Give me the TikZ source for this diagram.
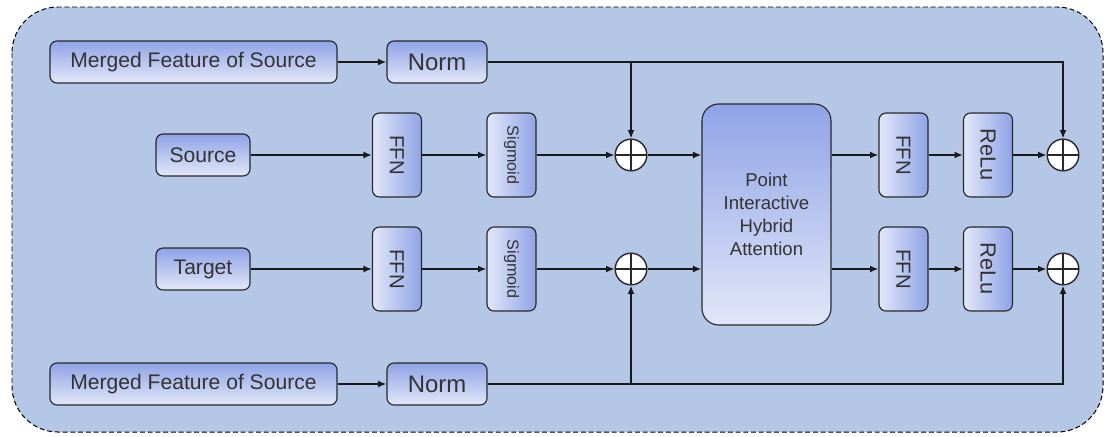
\documentclass[tikz,border=0pt]{standalone}
\usepackage{graphicx}
\usepackage{fontspec}
\setmainfont{Liberation Sans}
\usetikzlibrary{arrows.meta,calc}

\definecolor{bgblue}{RGB}{180,199,231}
\definecolor{boxdark}{RGB}{143,163,230}
\definecolor{boxlight}{RGB}{226,231,248}
\definecolor{edgegray}{RGB}{40,40,40}
\tikzset{
  hbox/.style={draw=edgegray, line width=0.8pt, rounded corners=5pt,
    top color=boxdark, bottom color=boxlight, text=black!80, inner sep=0pt,
    minimum height=1.05cm, font=\fontsize{15}{18}\selectfont},
  vbox/.style={draw=edgegray, line width=0.8pt, rounded corners=5pt,
    left color=boxlight, right color=boxdark, text=black!80, inner sep=0pt,
    minimum width=1.225cm, minimum height=2.1cm},
  addop/.style={circle, draw=edgegray, fill=white, line width=1pt,
    minimum size=0.79cm, inner sep=0pt,
    path picture={\draw[line width=1pt]
      (path picture bounding box.north) -- (path picture bounding box.south)
      (path picture bounding box.west) -- (path picture bounding box.east);}},
  conn/.style={line width=1.2pt, draw=black!90, -{Latex[length=6pt,width=5pt]}},
}

\begin{document}
\begin{tikzpicture}[x=0.025cm,y=-0.025cm]
  \useasboundingbox (0,0) rectangle (1111,436);
  \draw[dash pattern=on 3.5pt off 2pt, line width=0.7pt, fill=bgblue,
    rounded corners=1.15cm] (12,7) rectangle (1103,432);

  % inputs
  \node[hbox, minimum width=7.175cm] (mergedA) at (193.5,62) {Merged Feature of Source};
  \node[hbox, minimum width=2.5cm, font=\fontsize{17}{20}\selectfont] (normA) at (437,62) {Norm};
  \node[hbox, minimum width=2.35cm] (src) at (203,155) {Source};
  \node[hbox, minimum width=2.35cm] (tgt) at (203,269) {Target};
  \node[hbox, minimum width=7.175cm] (mergedB) at (193.5,384) {Merged Feature of Source};
  \node[hbox, minimum width=2.5cm, font=\fontsize{17}{20}\selectfont] (normB) at (437,384) {Norm};

  % gating branch
  \node[vbox, font=\fontsize{14.5}{17}\selectfont] (ffnA) at (397,155) {\rotatebox{-90}{FFN}};
  \node[vbox, font=\fontsize{11.5}{14}\selectfont] (sigA) at (511.5,155) {\rotatebox{-90}{Sigmoid}};
  \node[vbox, font=\fontsize{14.5}{17}\selectfont] (ffnB) at (397,269) {\rotatebox{-90}{FFN}};
  \node[vbox, font=\fontsize{11.5}{14}\selectfont] (sigB) at (511.5,269) {\rotatebox{-90}{Sigmoid}};
  \node[addop] (addA) at (631,155) {};
  \node[addop] (addB) at (631,269) {};

  % attention
  \node[draw=edgegray, line width=0.8pt, rounded corners=0.42cm, top color=boxdark,
    bottom color=boxlight, minimum width=3.225cm, minimum height=5.525cm,
    align=center, text=black!80, font=\fontsize{13.2}{16.4}\selectfont]
    (piha) at (766.5,214.5) {Point\\Interactive\\Hybrid\\Attention};

  % output branch
  \node[vbox, font=\fontsize{14.5}{17}\selectfont] (ffnC) at (903.5,155) {\rotatebox{-90}{FFN}};
  \node[vbox, font=\fontsize{15.5}{18}\selectfont] (reluA) at (988,155) {\rotatebox{-90}{ReLu}};
  \node[vbox, font=\fontsize{14.5}{17}\selectfont] (ffnD) at (903.5,269) {\rotatebox{-90}{FFN}};
  \node[vbox, font=\fontsize{15.5}{18}\selectfont] (reluB) at (988,269) {\rotatebox{-90}{ReLu}};
  \node[addop] (outA) at (1063,155) {};
  \node[addop] (outB) at (1063,269) {};

  % connections
  \draw[conn] (mergedA) -- (normA);
  \draw[conn] (mergedB) -- (normB);
  \draw[conn] (normA.east) -| (outA.north);
  \draw[conn] (normB.east) -| (outB.south);
  \draw[conn] (addA |- normA.east) -- (addA.north);
  \draw[conn] (addB |- normB.east) -- (addB.south);
  \draw[conn] (src) -- (ffnA);
  \draw[conn] (ffnA) -- (sigA);
  \draw[conn] (sigA) -- (addA);
  \draw[conn] (addA) -- (piha.west |- addA);
  \draw[conn] (tgt) -- (ffnB);
  \draw[conn] (ffnB) -- (sigB);
  \draw[conn] (sigB) -- (addB);
  \draw[conn] (addB) -- (piha.west |- addB);
  \draw[conn] (piha.east |- ffnC) -- (ffnC);
  \draw[conn] (ffnC) -- (reluA);
  \draw[conn] (reluA) -- (outA);
  \draw[conn] (piha.east |- ffnD) -- (ffnD);
  \draw[conn] (ffnD) -- (reluB);
  \draw[conn] (reluB) -- (outB);
\end{tikzpicture}
\end{document}
